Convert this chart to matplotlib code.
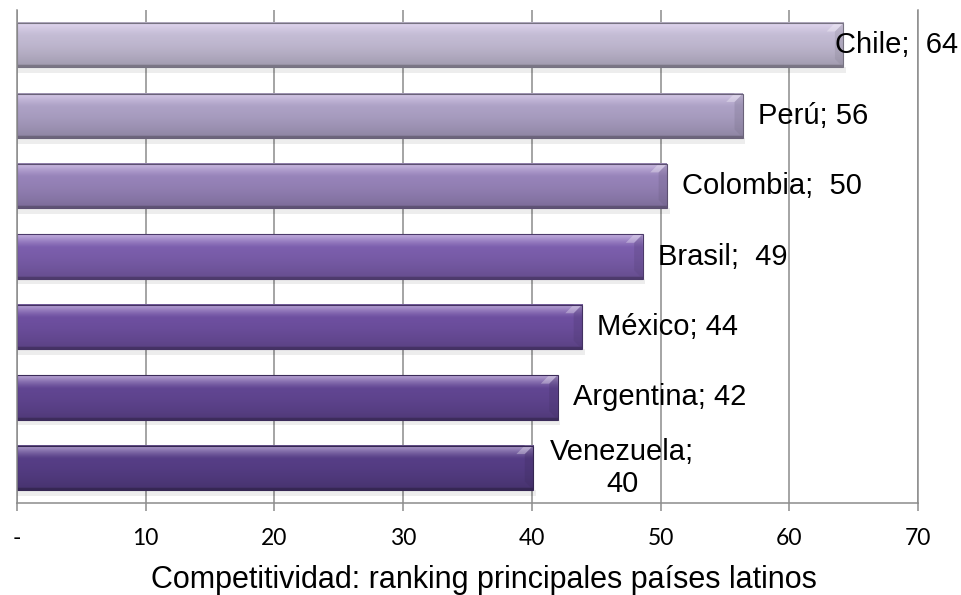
import numpy as np
import matplotlib as mpl
mpl.use('Agg')
import matplotlib.pyplot as plt
from matplotlib.colors import to_rgb
from matplotlib.patches import Polygon, Rectangle

# datos (de abajo hacia arriba)
paises = ['Venezuela', 'Argentina', 'México', 'Brasil', 'Colombia', 'Perú', 'Chile']
valores = [40.1, 42.0, 43.9, 48.6, 50.5, 56.4, 64.2]
etiquetas = ['Venezuela;\n40', 'Argentina; 42', 'México; 44', 'Brasil;  49',
             'Colombia;  50', 'Perú; 56', 'Chile;  64']
colores = ['#583f89', '#634795', '#7051a3', '#7e60b0', '#9a86bd', '#b0a4c9', '#c7bfd8']
ticks = [0, 10, 20, 30, 40, 50, 60, 70]
tick_labels = ['-', '10', '20', '30', '40', '50', '60', '70']
titulo = 'Competitividad: ranking principales países latinos'

gris = '#8c8c8c'
alto = 0.63

fig = plt.figure(figsize=(9.62, 5.95), dpi=100)
ax = fig.add_axes([0.0177, 0.1546, 0.9365, 0.8285])


def sombreado(color, n=60):
    base = np.array(to_rgb(color))
    t = np.linspace(0, 1, n)[:, None]
    luz = 0.6 * np.clip(1 - t / 0.3, 0, 1) ** 1.3
    sombra = 0.2 * t ** 2
    rgb = base * (1 - luz) + luz * np.array([0.95, 0.9, 1.0])
    rgb = rgb * (1 - sombra)
    rgb[:1] = base * 0.8
    rgb[-3:] = base * 0.62
    return np.clip(rgb, 0, 1)[:, None, :]


for i, (v, c) in enumerate(zip(valores, colores)):
    y0, y1 = i - alto / 2, i + alto / 2
    # sombra debajo de la barra
    ax.add_patch(Rectangle((0, y0 - 0.08), v + 0.2, 0.08, color='#000000',
                           alpha=0.07, lw=0, zorder=1.5))
    ax.imshow(sombreado(c), extent=(0, v, y0, y1), aspect='auto',
              origin='upper', interpolation='bilinear', zorder=2)
    # bisel extremo derecho
    d, e = 0.65, 0.12
    base = np.array(to_rgb(c))
    ax.add_patch(Polygon([(v - d, y1 - e), (v, y1), (v, y0), (v - d, y0 + e)],
                         closed=True, color=base * 0.7, alpha=0.3, lw=0, zorder=2.1))
    ax.add_patch(Polygon([(v - d, y1 - e), (v, y1), (v - d, y1), (v - 2 * d, y1 - e)],
                         closed=True, color='white', alpha=0.3, lw=0, zorder=2.1))
    ax.add_patch(Rectangle((0, y0), v, alto, fill=False, ec=base * 0.6,
                           lw=0.8, zorder=2.2))

# etiquetas de datos
for i, (v, lab) in enumerate(zip(valores, etiquetas)):
    ha, dx = 'left', 11
    if paises[i] == 'Chile':
        dx = -6
    if paises[i] == 'Venezuela':
        ha, dx = 'center', 64
    ax.annotate(lab, xy=(v, i), xytext=(dx, 0), textcoords='offset points',
                ha=ha, va='center', fontsize=21, family='Liberation Sans',
                multialignment='center', zorder=5, annotation_clip=False)

ax.set_xlim(0, 70)
ax.set_ylim(-0.5, 6.5)
ax.set_xticks(ticks)
ax.set_xticklabels(tick_labels, family='Lato', fontsize=16.5)
ax.set_yticks([])
ax.grid(axis='x', color=gris, lw=1.1, zorder=0.5)
ax.set_axisbelow(True)
ax.spines['top'].set_visible(False)
for s in ['left', 'right', 'bottom']:
    ax.spines[s].set_color(gris)
    ax.spines[s].set_linewidth(1.1)
ax.tick_params(axis='x', length=6, width=1.1, color=gris, pad=12)
ax.set_xlabel(titulo, family='Liberation Sans', fontsize=22)
ax.xaxis.set_label_coords(0.518, -0.125)

plt.savefig('out.png', dpi=100)
